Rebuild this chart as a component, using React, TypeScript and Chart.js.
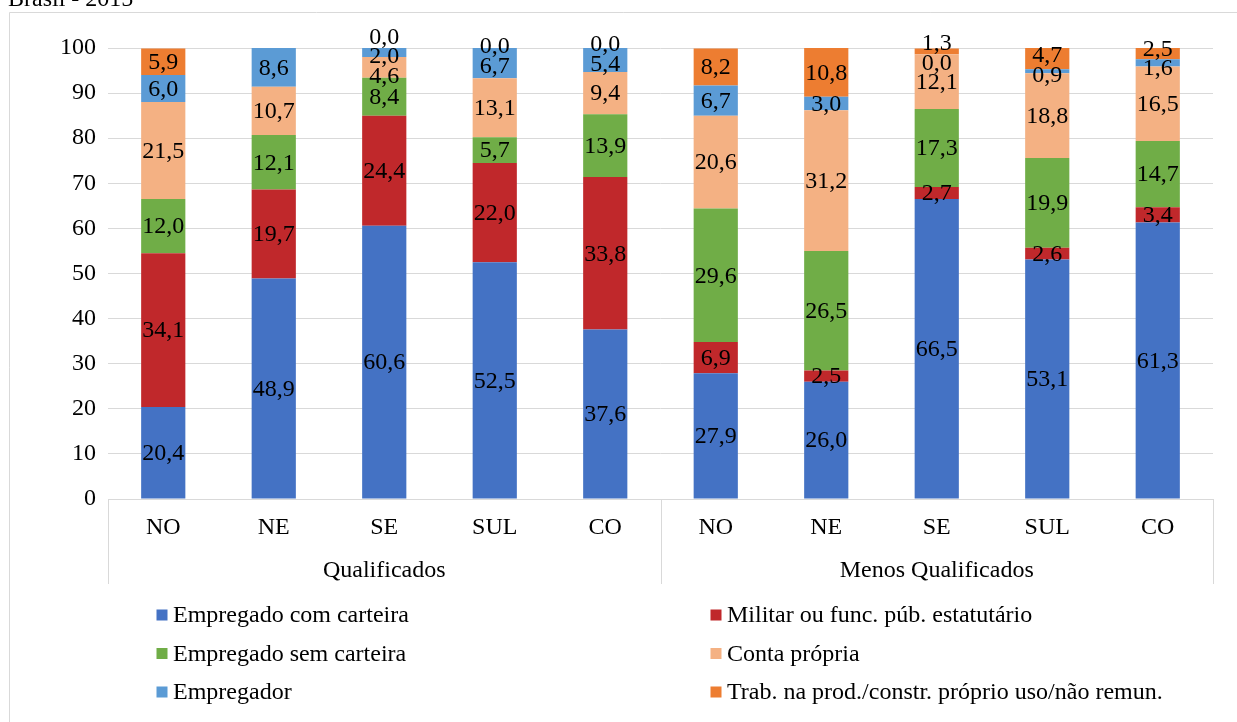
import React, { useEffect, useRef } from "react";
import { Chart, registerables } from "chart.js";

Chart.register(...registerables);

// ---------- data ----------
const title = "Brasil - 2015";
const regions = ["NO", "NE", "SE", "SUL", "CO", "NO", "NE", "SE", "SUL", "CO"];
const groups = ["Qualificados", "Menos Qualificados"];
const groupSize = 5;

const seriesNames = [
  "Empregado com carteira",
  "Militar ou func. púb. estatutário",
  "Empregado sem carteira",
  "Conta própria",
  "Empregador",
  "Trab. na prod./constr. próprio uso/não remun.",
];
const seriesColors = ["#4472C4", "#C0282B", "#70AD47", "#F4B183", "#5B9BD5", "#ED7D31"];

const empregadoCom = [20.4, 48.9, 60.6, 52.5, 37.6, 27.9, 26.0, 66.5, 53.1, 61.3];
const militar = [34.1, 19.7, 24.4, 22.0, 33.8, 6.9, 2.5, 2.7, 2.6, 3.4];
const empregadoSem = [12.0, 12.1, 8.4, 5.7, 13.9, 29.6, 26.5, 17.3, 19.9, 14.7];
const contaPropria = [21.5, 10.7, 4.6, 13.1, 9.4, 20.6, 31.2, 12.1, 18.8, 16.5];
const empregador = [6.0, 8.6, 2.0, 6.7, 5.4, 6.7, 3.0, 0.0, 0.9, 1.6];
const trabProprio: (number | null)[] = [5.9, null, 0.0, 0.0, 0.0, 8.2, 10.8, 1.3, 4.7, 2.5];

const seriesValues = [empregadoCom, militar, empregadoSem, contaPropria, empregador, trabProprio];

const yMin = 0;
const yMax = 100;
const yStep = 10;

// ---------- styling ----------
const FAMILY = "'Liberation Serif', 'Times New Roman', serif";
const FONT = `24px ${FAMILY}`;
const GRID = "#D9D9D9";
const W = 1237;
const H = 722;

function fmt(v: number) {
  return v.toFixed(1).replace(".", ",");
}

type Lbl = { x: number; y: number; d: number; text: string; ly: number };

function resolveLabels(items: Lbl[], gap: number) {
  items.sort((a, b) => a.y - b.y || b.d - a.d);
  let clusters = items.map((it) => ({ members: [it], pos: it.y }));
  let merged = true;
  while (merged) {
    merged = false;
    for (let k = 0; k < clusters.length - 1; k++) {
      const A = clusters[k];
      const B = clusters[k + 1];
      const aBottom = A.pos + (A.members.length - 1) * gap;
      if (B.pos - aBottom < gap) {
        const members = A.members.concat(B.members);
        let s = 0;
        members.forEach((m, j) => (s += m.y - j * gap));
        clusters.splice(k, 2, { members, pos: s / members.length });
        merged = true;
        break;
      }
    }
  }
  clusters.forEach((c) => c.members.forEach((m, j) => (m.ly = c.pos + j * gap)));
}

const decorPlugin = {
  id: "decor",
  beforeDraw(chart: any) {
    const ctx = chart.ctx;
    ctx.save();
    ctx.fillStyle = "#fff";
    ctx.fillRect(0, 0, chart.width, chart.height);
    ctx.strokeStyle = GRID;
    ctx.lineWidth = 1;
    ctx.beginPath();
    ctx.moveTo(9.5, chart.height + 2);
    ctx.lineTo(9.5, 12.5);
    ctx.lineTo(chart.width + 2, 12.5);
    ctx.stroke();
    ctx.fillStyle = "#000";
    ctx.font = FONT;
    ctx.textAlign = "left";
    ctx.textBaseline = "alphabetic";
    ctx.fillText(title, 8, 6);
    ctx.restore();
  },
  afterDatasetsDraw(chart: any) {
    const ctx = chart.ctx;
    ctx.save();
    ctx.font = FONT;
    ctx.fillStyle = "#000";
    ctx.textAlign = "center";
    ctx.textBaseline = "middle";
    const n = chart.data.labels.length;
    for (let i = 0; i < n; i++) {
      const items: Lbl[] = [];
      chart.data.datasets.forEach((ds: any, d: number) => {
        const v = ds.data[i];
        if (v === null || v === undefined) return;
        const el = chart.getDatasetMeta(d).data[i];
        if (!el) return;
        const yc = (el.y + el.base) / 2;
        items.push({ x: el.x, y: yc, d, text: fmt(v), ly: yc });
      });
      resolveLabels(items, 19.5);
      items.forEach((it) => ctx.fillText(it.text, it.x, it.ly + 1));
    }
    ctx.restore();
  },
  afterDraw(chart: any) {
    const ctx = chart.ctx;
    const xs = chart.scales.x;
    const n = chart.data.labels.length;
    ctx.save();
    // separators of the multi-level category axis
    ctx.strokeStyle = GRID;
    ctx.lineWidth = 1;
    const seps: number[] = [xs.left];
    for (let g = 1; g < groups.length; g++) {
      const a = xs.getPixelForValue(g * groupSize - 1);
      const b = xs.getPixelForValue(g * groupSize);
      seps.push((a + b) / 2);
    }
    seps.push(xs.right);
    ctx.beginPath();
    seps.forEach((sx) => {
      const px = Math.round(sx) + 0.5;
      ctx.moveTo(px, xs.top);
      ctx.lineTo(px, xs.top + 85);
    });
    ctx.stroke();

    ctx.fillStyle = "#000";
    ctx.font = FONT;
    ctx.textAlign = "center";
    ctx.textBaseline = "middle";
    for (let i = 0; i < n; i++) {
      ctx.fillText(chart.data.labels[i], xs.getPixelForValue(i), xs.top + 29);
    }
    groups.forEach((g, k) => {
      const a = xs.getPixelForValue(k * groupSize);
      const b = xs.getPixelForValue(k * groupSize + groupSize - 1);
      ctx.fillText(g, (a + b) / 2, xs.top + 72);
    });

    // legend: two columns, three rows
    const colX = [chart.chartArea.left + 48.5, chart.chartArea.left + 602.5];
    const rowY0 = xs.top + 116;
    const rowH = 38.5;
    ctx.textAlign = "left";
    chart.data.datasets.forEach((ds: any, d: number) => {
      const col = d % 2;
      const row = Math.floor(d / 2);
      const bx = colX[col];
      const by = rowY0 + row * rowH;
      ctx.fillStyle = ds.backgroundColor;
      ctx.fillRect(bx, by - 5.5, 11, 11);
      ctx.fillStyle = "#000";
      ctx.fillText(ds.label, bx + 16.5, by + 1);
    });
    ctx.restore();
  },
};

export default function App() {
  const ref = useRef<HTMLCanvasElement | null>(null);

  useEffect(() => {
    if (!ref.current) return;
    const chart = new Chart(ref.current, {
      type: "bar",
      data: {
        labels: regions,
        datasets: seriesValues.map((vals, d) => ({
          label: seriesNames[d],
          data: vals as any,
          backgroundColor: seriesColors[d],
          borderWidth: 0,
          stack: "s",
          barPercentage: 0.4,
          categoryPercentage: 1,
        })),
      },
      options: {
        responsive: false,
        animation: false,
        devicePixelRatio: 1,
        layout: { padding: { top: 48, right: 24, left: 0, bottom: 0 } },
        plugins: {
          legend: { display: false },
          tooltip: { enabled: false },
          title: { display: false },
        },
        scales: {
          x: {
            stacked: true,
            grid: { display: false },
            border: { display: true, color: GRID },
            ticks: { display: false },
            afterFit: (s: any) => {
              s.height = 223;
            },
          },
          y: {
            stacked: true,
            min: yMin,
            max: yMax,
            ticks: {
              stepSize: yStep,
              color: "#000",
              font: { family: FAMILY, size: 24 },
              padding: 12,
            },
            grid: { color: GRID, drawTicks: false, lineWidth: 1 },
            border: { display: false },
            afterFit: (s: any) => {
              s.width = 108;
            },
          },
        },
      },
      plugins: [decorPlugin],
    });
    return () => chart.destroy();
  }, []);

  return (
    <div style={{ position: "fixed", left: 0, top: 0, width: W, height: H, background: "#fff" }}>
      <canvas ref={ref} width={W} height={H} style={{ width: W, height: H, display: "block" }} />
    </div>
  );
}
